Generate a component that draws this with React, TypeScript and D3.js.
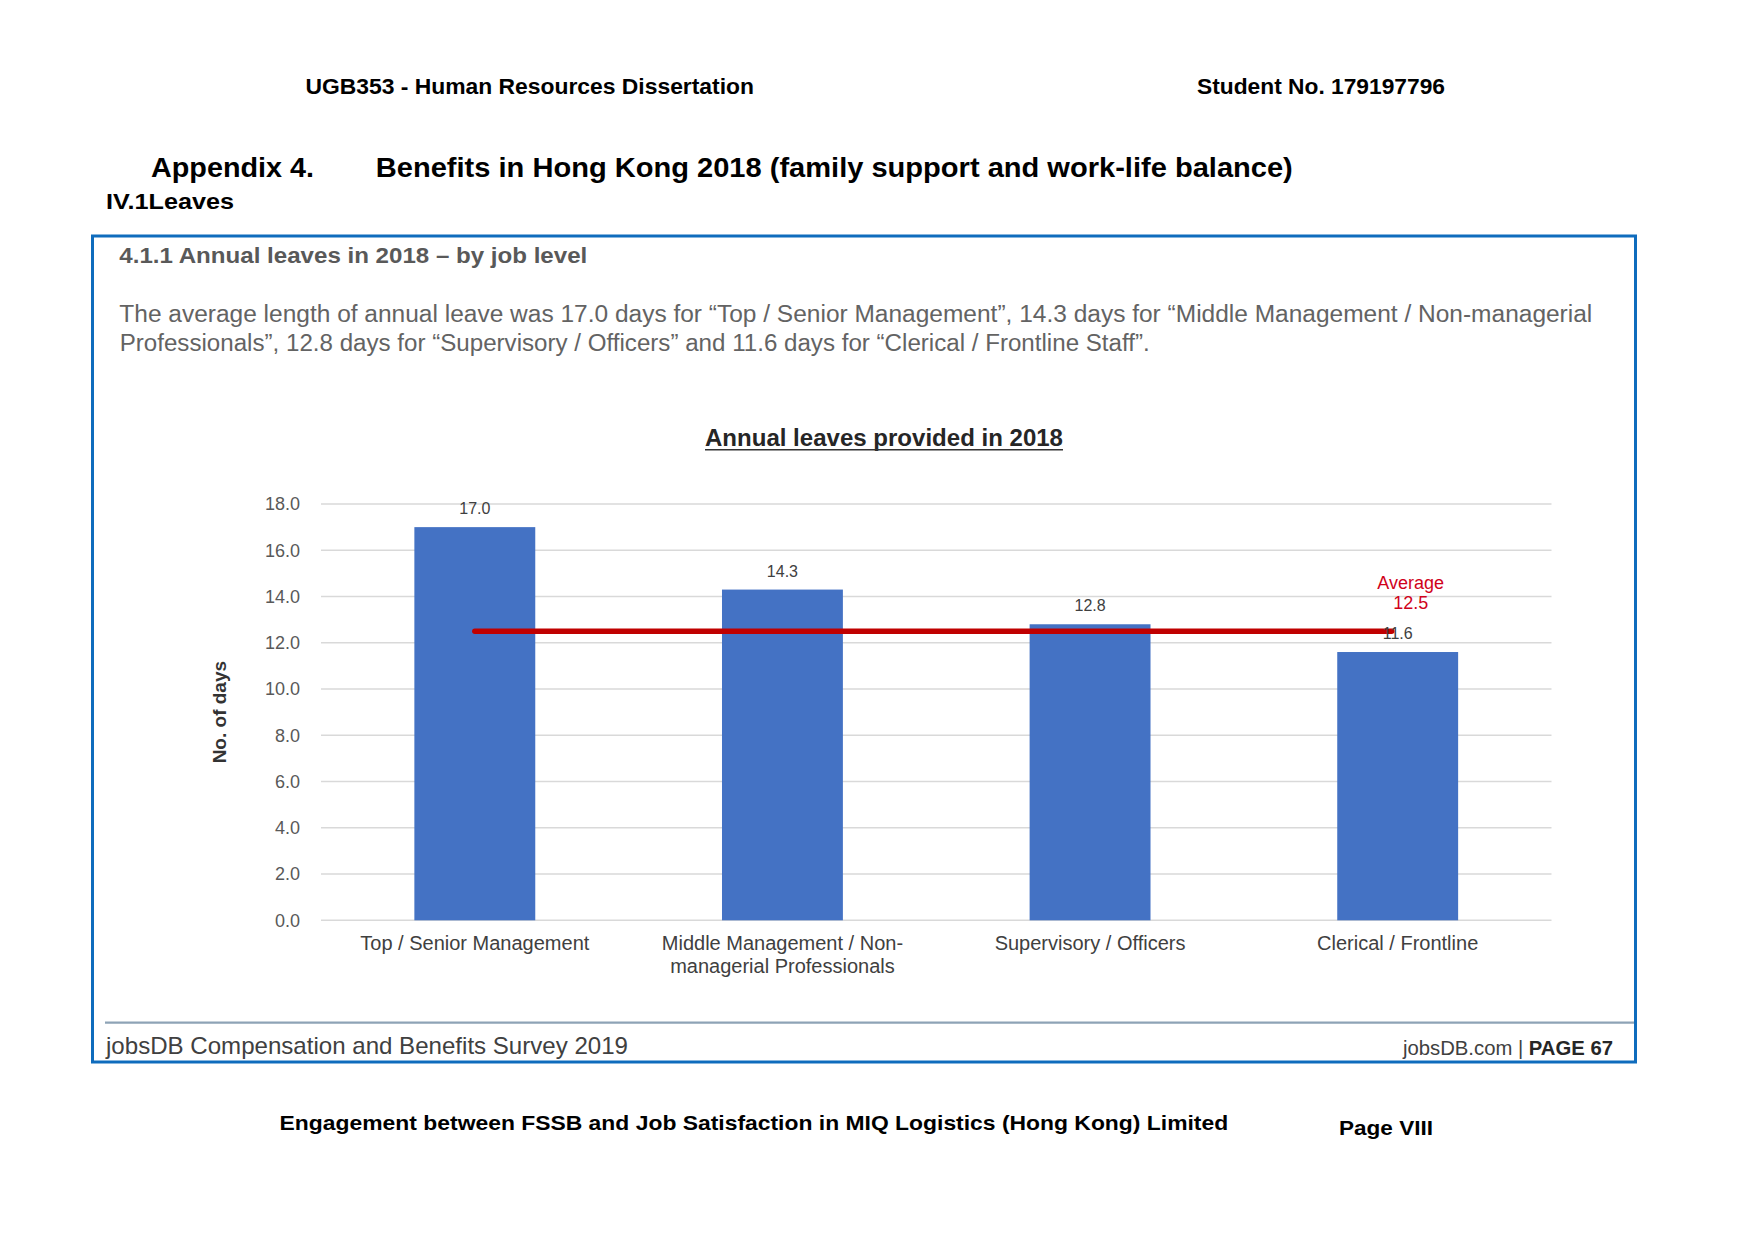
import React from "react";
import * as d3 from "d3";

const categories = [
  ["Top / Senior Management"],
  ["Middle Management / Non-", "managerial Professionals"],
  ["Supervisory / Officers"],
  ["Clerical / Frontline"],
];
const categoryKeys = ["Top / Senior Management", "Middle Management / Non-managerial Professionals", "Supervisory / Officers", "Clerical / Frontline"];
const values = [17.0, 14.3, 12.8, 11.6];
const averageValue = 12.5;
const yTicks = [0, 2, 4, 6, 8, 10, 12, 14, 16, 18];

const paragraphLines = [
  "The average length of annual leave was 17.0 days for \u201CTop / Senior Management\u201D, 14.3 days for \u201CMiddle Management / Non-managerial",
  "Professionals\u201D, 12.8 days for \u201CSupervisory / Officers\u201D and 11.6 days for \u201CClerical / Frontline Staff\u201D.",
];

const FONT = "'Liberation Sans', Arial, sans-serif";

export default function App() {
  const W = 1754;
  const H = 1241;
  const x = d3
    .scaleBand<string>()
    .domain(categoryKeys)
    .range([321, 1551.5])
    .paddingInner(0.607)
    .paddingOuter(0.3035);
  const y = d3.scaleLinear().domain([0, 18]).range([920.3, 504]);
  const fmt = d3.format(".1f");
  const cx = (i: number) => (x(categoryKeys[i]) as number) + x.bandwidth() / 2;
  const avgY = y(averageValue);

  return (
    <svg
      width={W}
      height={H}
      viewBox={`0 0 ${W} ${H}`}
      style={{ position: "absolute", left: 0, top: 0, background: "#fff" }}
      fontFamily={FONT}
    >
      <rect x={0} y={0} width={W} height={H} fill="#fff" />
      {/* page header */}
      <text x={305.4} y={94.3} fontSize={22.5} fontWeight="bold" fill="#000" textLength={448.6} lengthAdjust="spacingAndGlyphs">
        UGB353 - Human Resources Dissertation
      </text>
      <text x={1197} y={94.3} fontSize={22.5} fontWeight="bold" fill="#000" textLength={248} lengthAdjust="spacingAndGlyphs">
        Student No. 179197796
      </text>
      <text x={151} y={176.7} fontSize={27.5} fontWeight="bold" fill="#000" textLength={163} lengthAdjust="spacingAndGlyphs">
        Appendix 4.
      </text>
      <text x={375.8} y={176.7} fontSize={27.5} fontWeight="bold" fill="#000" textLength={917} lengthAdjust="spacingAndGlyphs">
        Benefits in Hong Kong 2018 (family support and work-life balance)
      </text>
      <text x={106} y={209.3} fontSize={22.5} fontWeight="bold" fill="#000" textLength={128} lengthAdjust="spacingAndGlyphs">
        IV.1Leaves
      </text>

      {/* framed screenshot */}
      <rect x={92.5} y={236} width={1543} height={826} fill="none" stroke="#0f6cbd" strokeWidth={3} />
      <text x={119.3} y={263.3} fontSize={22} fontWeight="bold" fill="#595959" textLength={468} lengthAdjust="spacingAndGlyphs">
        4.1.1 Annual leaves in 2018 – by job level
      </text>
      <text x={119.3} y={321.7} fontSize={23.5} fill="#636363" textLength={1473} lengthAdjust="spacingAndGlyphs">
        {paragraphLines[0]}
      </text>
      <text x={119.7} y={350.7} fontSize={23.5} fill="#636363" textLength={1030} lengthAdjust="spacingAndGlyphs">
        {paragraphLines[1]}
      </text>

      {/* chart title */}
      <text x={884} y={446} fontSize={23.5} fontWeight="bold" fill="#262626" textAnchor="middle" textLength={358} lengthAdjust="spacingAndGlyphs">
        Annual leaves provided in 2018
      </text>
      <line x1={705} x2={1063} y1={449.8} y2={449.8} stroke="#333" strokeWidth={1.6} />

      {/* gridlines and y ticks */}
      {yTicks.map((t) => (
        <g key={t}>
          <line x1={321} x2={1551.5} y1={y(t)} y2={y(t)} stroke="#d9d9d9" strokeWidth={1.6} />
          <text x={300} y={y(t)} dy="0.35em" fontSize={18} fill="#595959" textAnchor="end">
            {fmt(t)}
          </text>
        </g>
      ))}

      {/* y-axis title */}
      <text
        transform={`translate(226, ${(y(0) + y(18)) / 2}) rotate(-90)`}
        fontSize={19}
        fontWeight="bold"
        fill="#333"
        textAnchor="middle"
      >
        No. of days
      </text>

      {/* bars */}
      {values.map((v, i) => (
        <rect
          key={i}
          x={x(categoryKeys[i]) as number}
          y={y(v)}
          width={x.bandwidth()}
          height={y(0) - y(v)}
          fill="#4472c4"
        />
      ))}

      {/* average line */}
      <line x1={cx(0)} x2={cx(3) - 6} y1={avgY} y2={avgY} stroke="#c00000" strokeWidth={5.5} strokeLinecap="round" />

      {/* value labels */}
      {values.map((v, i) => (
        <text key={i} x={cx(i)} y={y(v) - 13} fontSize={16} fill="#404040" textAnchor="middle">
          {fmt(v)}
        </text>
      ))}

      {/* average label */}
      <text x={cx(3) + 13} y={avgY - 42} fontSize={18} fill="#d0021b" textAnchor="middle">
        Average
      </text>
      <text x={cx(3) + 13} y={avgY - 22} fontSize={18} fill="#d0021b" textAnchor="middle">
        {fmt(averageValue)}
      </text>

      {/* category labels */}
      {categories.map((lines, i) => (
        <text key={i} x={cx(i)} y={949.5} fontSize={20} fill="#404040" textAnchor="middle">
          {lines.map((l, j) => (
            <tspan key={j} x={cx(i)} dy={j === 0 ? 0 : 23}>
              {l}
            </tspan>
          ))}
        </text>
      ))}

      {/* screenshot footer */}
      <line x1={105} x2={1634} y1={1022.7} y2={1022.7} stroke="#8ea3b6" strokeWidth={2.2} />
      <text x={106} y={1054.3} fontSize={24} fill="#404040" textLength={522} lengthAdjust="spacingAndGlyphs">
        jobsDB Compensation and Benefits Survey 2019
      </text>
      <text x={1613} y={1055} fontSize={21} fill="#404040" textAnchor="end" textLength={210} lengthAdjust="spacingAndGlyphs">
        <tspan>jobsDB.com | </tspan>
        <tspan fontWeight="bold" fill="#262626">PAGE 67</tspan>
      </text>

      {/* page footer */}
      <text x={279.6} y={1130} fontSize={20.5} fontWeight="bold" fill="#000" textLength={948.6} lengthAdjust="spacingAndGlyphs">
        Engagement between FSSB and Job Satisfaction in MIQ Logistics (Hong Kong) Limited
      </text>
      <text x={1339} y={1135} fontSize={20.5} fontWeight="bold" fill="#000" textLength={94} lengthAdjust="spacingAndGlyphs">
        Page VIII
      </text>
    </svg>
  );
}
